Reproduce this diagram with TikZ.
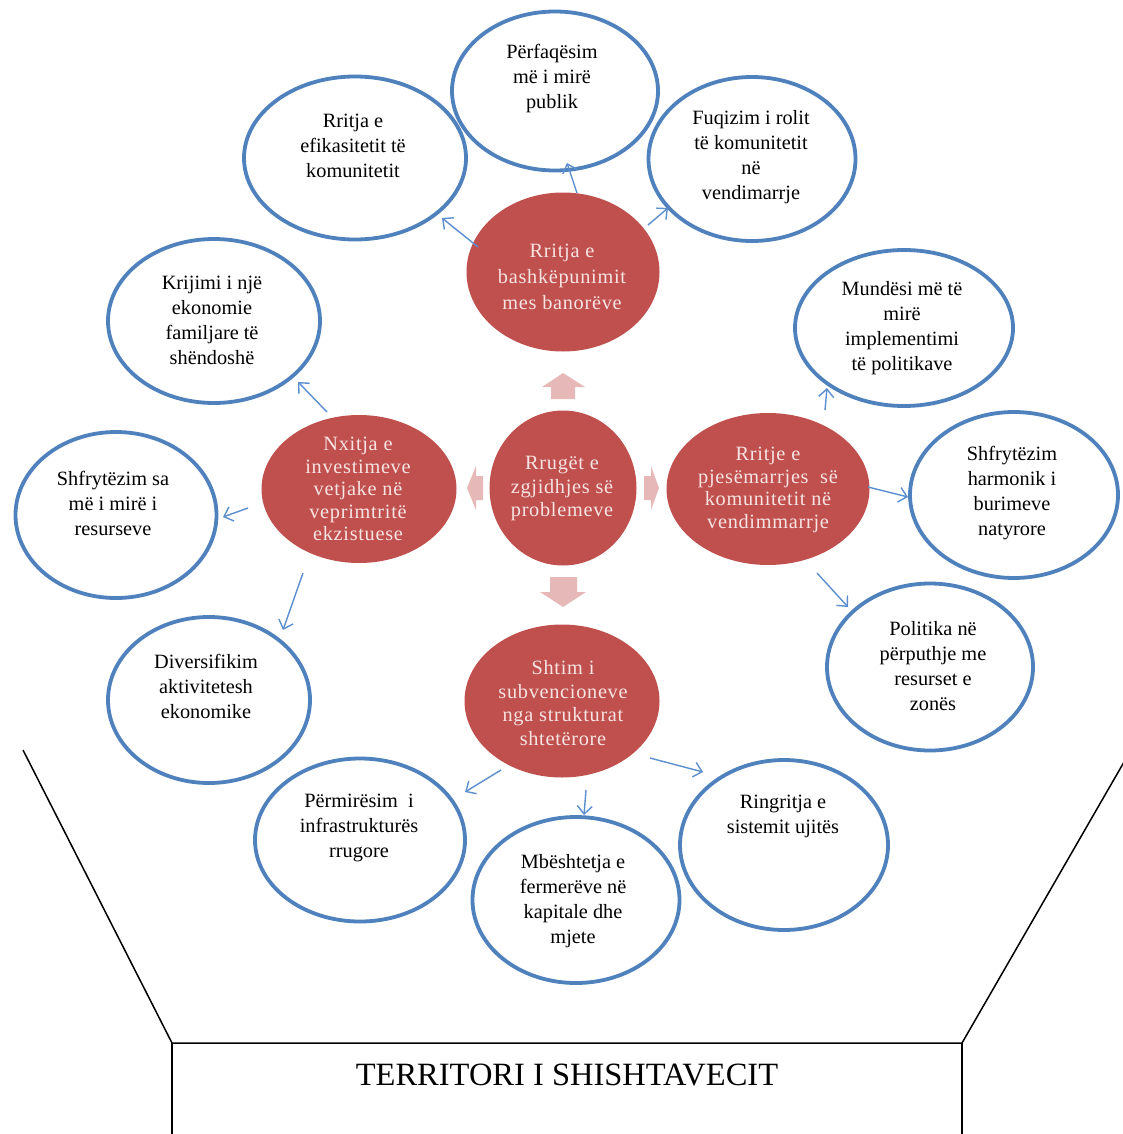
\documentclass[tikz,border=0pt]{standalone}
\usepackage{fontspec}
\setmainfont{Liberation Serif}
\newfontfamily\spacedfont[LetterSpace=3.5]{Liberation Serif}
\usetikzlibrary{shapes.geometric,arrows.meta}
\definecolor{redfill}{HTML}{C0504D}
\definecolor{bluel}{HTML}{4F81BD}
\definecolor{connc}{HTML}{5B8FCF}
\definecolor{pinkarr}{HTML}{E6B9B8}
\definecolor{redtext}{HTML}{F6E4E3}
\begin{document}
\begin{tikzpicture}[x=1pt,y=-1pt,
 blueell/.style={ellipse, draw=bluel, line width=3.8pt, inner sep=0pt},
 redell/.style={ellipse, fill=redfill, inner sep=0pt},
 btext/.style={align=center, inner sep=0pt, font=\fontsize{20.3}{25}\selectfont},
 rtext/.style={align=center, inner sep=0pt, text=redtext},
 conn/.style={draw=connc, line width=1.4pt, -{Straight Barb[length=8pt,width=15pt]}},
 blk/.style={fill=pinkarr},
 frame/.style={draw=black, line width=1.5pt}]
\useasboundingbox (0,0) rectangle (1122,1134);
\fill[white] (0,0) rectangle (1122,1134);

% frame
\draw[frame] (23,750) -- (172,1043) -- (962,1043) -- (1124,762);
\draw[frame] (172,1043) -- (172,1136);
\draw[frame] (962,1043) -- (962,1136);
\node[inner sep=0pt, font=\fontsize{32.5}{36}\selectfont] (terr) at (567,1075) {TERRITORI I SHISHTAVECIT};

% red ellipses
\node[redell, minimum width=193pt, minimum height=159pt] (T) at (563,272) {};
\node[redell, minimum width=147pt, minimum height=155pt] (C) at (563,488) {};
\node[redell, minimum width=195pt, minimum height=148pt] (L) at (359,489) {};
\node[redell, minimum width=203pt, minimum height=152pt] (Rt) at (768,489) {};
\node[redell, minimum width=195pt, minimum height=153pt] (B) at (562,701) {};

\node[rtext, font=\spacedfont\fontsize{20.3}{26}\selectfont] (Ttx) at (562,277) {Rritja e\\bashkëpunimit\\mes banorëve};
\node[rtext, font=\spacedfont\fontsize{20.3}{23.5}\selectfont] (Ctx) at (562,489) {Rrugët e\\zgjidhjes së\\problemeve};
\node[rtext, font=\spacedfont\fontsize{20.3}{22.5}\selectfont] (Ltx) at (358,489) {Nxitja e\\investimeve\\vetjake në\\veprimtritë\\ekzistuese};
\node[rtext, font=\spacedfont\fontsize{20.3}{22.5}\selectfont] (Rttx) at (768,490) {Rritje e\\pjesëmarrjes \ së\\komunitetit në\\vendimmarrje};
\node[rtext, font=\spacedfont\fontsize{20.3}{23.5}\selectfont] (Btx) at (563,703) {Shtim i\\subvencioneve\\nga strukturat\\shtetërore};

% block arrows
\fill[blk] (551,399) -- (551,387) -- (542,387) -- (563,373) -- (585,387) -- (575,387) -- (575,399) -- cycle;
\fill[blk] (550,577) -- (577,577) -- (577,592) -- (586,592) -- (563,607) -- (540,592) -- (550,592) -- cycle;
\fill[blk] (483,476) -- (476,476) -- (476,466) -- (467,488) -- (476,510) -- (476,500) -- (483,500) -- cycle;
\fill[blk] (644,476) -- (651,476) -- (651,466) -- (659,488) -- (651,510) -- (651,500) -- (644,500) -- cycle;

% blue ellipses
\node[blueell, minimum width=206pt, minimum height=159pt] (P) at (555,91) {};
\node[blueell, minimum width=222pt, minimum height=163pt] (E) at (355,158) {};
\node[blueell, minimum width=207pt, minimum height=164pt] (F) at (752,159) {};
\node[blueell, minimum width=218pt, minimum height=156pt] (M) at (904,328) {};
\node[blueell, minimum width=212pt, minimum height=164pt] (K) at (214,321) {};
\node[blueell, minimum width=201pt, minimum height=166pt] (S) at (116,515) {};
\node[blueell, minimum width=202pt, minimum height=166pt] (D) at (209,700) {};
\node[blueell, minimum width=208pt, minimum height=166pt] (H) at (1014,495) {};
\node[blueell, minimum width=206pt, minimum height=167pt] (Po) at (930,667) {};
\node[blueell, minimum width=210pt, minimum height=163pt] (Pm) at (360,840) {};
\node[blueell, minimum width=207pt, minimum height=166pt] (Mb) at (576,900) {};
\node[blueell, minimum width=208pt, minimum height=170pt] (R) at (784,845) {};

\node[btext] (Ptx) at (552,79) {Përfaqësim\\më i mirë\\publik};
\node[btext] (Etx) at (353,146) {Rritja e\\efikasitetit të\\komunitetit};
\node[btext] (Ftx) at (751,157) {Fuqizim i rolit\\të komunitetit\\në\\vendimarrje};
\node[btext] (Mtx) at (902,328) {Mundësi më të\\mirë\\implementimi\\të politikave};
\node[btext] (Ktx) at (212,320) {Krijimi i një\\ekonomie\\familjare të\\shëndoshë};
\node[btext] (Stx) at (113,503) {Shfrytëzim sa\\më i mirë i\\resurseve};
\node[btext] (Dtx) at (206,686) {Diversifikim\\aktivitetesh\\ekonomike};
\node[btext] (Htx) at (1012,493) {Shfrytëzim\\harmonik i\\burimeve\\natyrore};
\node[btext] (Potx) at (933,666) {Politika në\\përputhje me\\resurset e\\zonës};
\node[btext] (Pmtx) at (359,828) {Përmirësim \ i\\infrastrukturës\\rrugore};
\node[btext] (Mbtx) at (573,901) {Mbështetja e\\fermerëve në\\kapitale dhe\\mjete};
\node[btext] (Rtx) at (783,816) {Ringritja e\\sistemit ujitës};

% connector ends
\coordinate (a1) at (577,193); \coordinate (b1) at (567,163);
\coordinate (a2) at (478,247); \coordinate (b2) at (442,218);
\coordinate (a3) at (648,225); \coordinate (b3) at (668,208);
\coordinate (a4) at (327,412); \coordinate (b4) at (298,382);
\coordinate (a5) at (248,508); \coordinate (b5) at (223,517);
\coordinate (a6) at (303,573); \coordinate (b6) at (283,630);
\coordinate (a7) at (825,410); \coordinate (b7) at (827,388);
\coordinate (a8) at (868,487); \coordinate (b8) at (908,497);
\coordinate (a9) at (817,573); \coordinate (b9) at (848,607);
\coordinate (a10) at (501,770); \coordinate (b10) at (465,792);
\coordinate (a11) at (586,790); \coordinate (b11) at (584,815);
\coordinate (a12) at (650,758); \coordinate (b12) at (703,772);
\foreach \i in {1,...,12} {\draw[conn] (a\i) -- (b\i);}
\end{tikzpicture}
\end{document}
